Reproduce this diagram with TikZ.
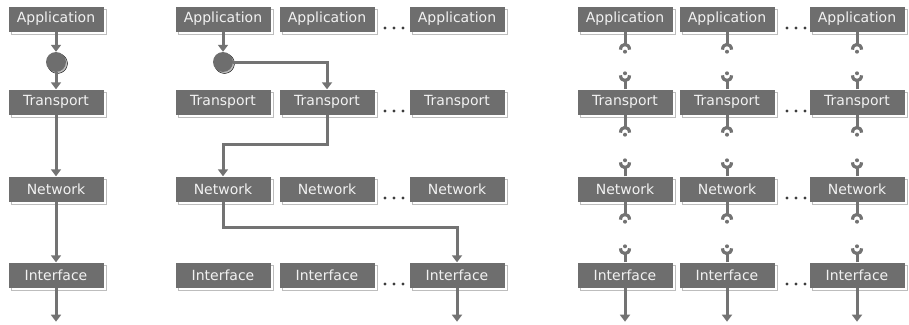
\documentclass[tikz,border=0pt]{standalone}
\usepackage{fontspec}
\setmainfont{DejaVu Sans}
\usepackage{tikz}
\usetikzlibrary{arrows.meta,shadows,calc}

\definecolor{boxgray}{HTML}{6E6E6E}
\definecolor{wiregray}{HTML}{737373}
\definecolor{shadegray}{HTML}{BDBDBD}
\definecolor{labelgray}{HTML}{F2F2F2}
\definecolor{dotgray}{HTML}{3C3C3C}

\tikzset{
    layer/.style={rectangle, fill=boxgray, text=labelgray, minimum width=95pt, minimum height=25pt,
        inner sep=0pt, font=\fontsize{14}{16}\selectfont,
        copy shadow={shadow xshift=3pt, shadow yshift=-3pt, fill=white, draw=shadegray, line width=1pt}},
    mux/.style={circle, fill=boxgray, minimum size=20pt, inner sep=0pt,
        copy shadow={shadow xshift=1.5pt, shadow yshift=-1.5pt, fill=shadegray}},
    wire/.style={draw=wiregray, line width=3pt},
    flow/.style={wire, -{Triangle[width=10pt,length=7pt]}},
    plug/.style={draw=wiregray, line width=3.2pt},
}

\begin{document}
\begin{tikzpicture}[x=1pt, y=-1pt]
    \useasboundingbox (0,0) rectangle (909,324);

    % layer boxes, one column per stack
    \foreach \r/\t/\y in {app/Application/19, trn/Transport/102, net/Network/189, ifc/Interface/275}{
        \node[layer] (\r A) at (56,\y) {\t};
        \node[layer] (\r B1) at (223,\y) {\t};
        \node[layer] (\r B2) at (327,\y) {\t};
        \node[layer] (\r B3) at (457,\y) {\t};
        \node[layer] (\r C1) at (625,\y) {\t};
        \node[layer] (\r C2) at (727,\y) {\t};
        \node[layer] (\r C3) at (857,\y) {\t};
        % dots between second and last box
        \foreach \d in {385,394,403,787,796,805}
            \fill[dotgray] (\d,\y+9) circle (1.6pt);
    }

    % single stack
    \node[mux] (circA) at (56,62) {};
    \draw[flow] (appA) -- (circA);
    \draw[flow] (circA) -- (trnA);
    \draw[flow] (trnA) -- (netA);
    \draw[flow] (netA) -- (ifcA);
    \draw[flow] (ifcA.south) -- ++(0,34);

    % switched stacks
    \node[mux] (circB) at (223,62) {};
    \draw[flow] (appB1) -- (circB);
    \draw[flow] (circB.east) -| (trnB2.north);
    \draw[flow] (trnB2.south) -- ++(0,30) -| (netB1.north);
    \draw[flow] (netB1.south) -- ++(0,26) -| (ifcB3.north);
    \draw[flow] (ifcB3.south) -- ++(0,34);

    % plugged stacks
    \foreach \c in {1,2,3}{
        \foreach \u/\l in {app/trn, trn/net, net/ifc}{
            \draw[wire] (\u C\c.south) -- ++(0,13);
            \draw[plug] ($(\u C\c.south)+(-4.5,18)$) .. controls +(0,-7) and +(0,-7) .. ($(\u C\c.south)+(4.5,18)$);
            \fill[wiregray] ($(\u C\c.south)+(0,20)$) circle (2pt);
            \fill[wiregray] ($(\l C\c.north)+(0,-16)$) circle (2pt);
            \draw[plug] ($(\l C\c.north)+(-4.5,-14)$) .. controls +(0,7) and +(0,7) .. ($(\l C\c.north)+(4.5,-14)$);
            \draw[wire] (\l C\c.north) -- ++(0,-9);
        }
        \draw[flow] (ifcC\c.south) -- ++(0,34);
    }
\end{tikzpicture}
\end{document}
